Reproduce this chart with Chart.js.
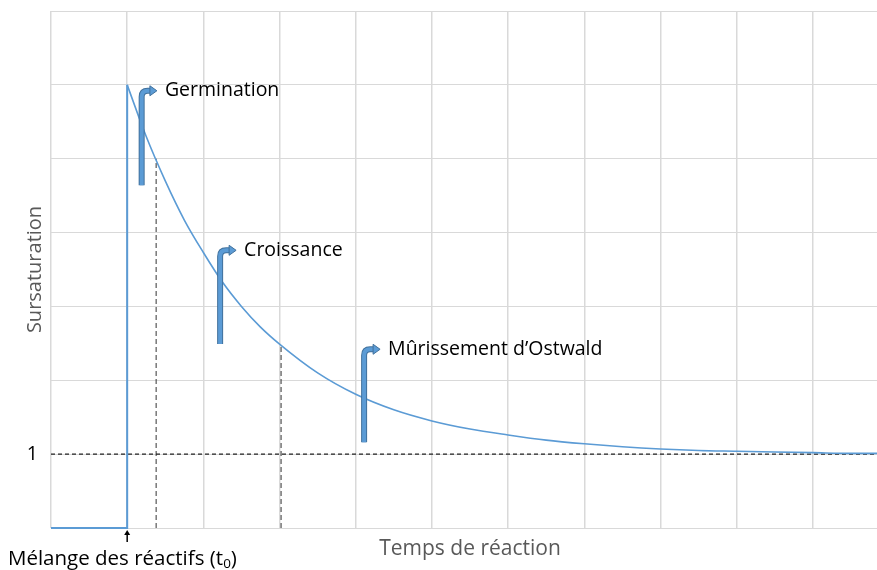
<!DOCTYPE html>
<html>
<head>
<meta charset="utf-8">
<script src="https://cdn.jsdelivr.net/npm/chart.js@4.4.0/dist/chart.umd.min.js"></script>
<style>
  html, body { margin: 0; padding: 0; background: #fff; overflow: hidden; }
  #wrap { position: relative; width: 890px; height: 570px; }
</style>
</head>
<body>
<div id="wrap"><canvas id="chart"></canvas></div>
<script>
// data (x in grid units, y in grid units; 1 = saturation)
const stepTimes = [0, 1, 1];
const stepValues = [0, 0, 6];
const decayTimes = [1, 1.25, 1.5, 1.75, 2, 2.25, 2.5, 2.75, 3, 3.5, 4, 4.5, 5, 5.5, 6, 6.5, 7, 7.5, 8, 8.5, 9, 9.5, 10, 10.5, 11];
const decayValues = [6.0, 5.30, 4.70, 4.17, 3.73, 3.33, 3.00, 2.72, 2.49, 2.10, 1.81, 1.60, 1.45, 1.34, 1.26, 1.19, 1.14, 1.10, 1.07, 1.05, 1.04, 1.03, 1.02, 1.01, 1.01];
const saturationLevel = 1;
const markerTimes = [1.38, 3.02];
const markerValues = [5.0, 2.49];
const phaseLabels = ['Germination', 'Croissance', 'Mûrissement d’Ostwald'];
const yTickLabels = ['', '1', '', '', '', '', '', ''];
const xTitle = 'Temps de réaction';
const yTitle = 'Sursaturation';
const originText = 'Mélange des réactifs (t';
const originSub = '0';

// annotation arrows, in axis units
const phaseArrows = [
  { x: 1.19, bottom: 4.64, top: 5.92, tip: 1.39 },
  { x: 2.22, bottom: 2.49, top: 3.76, tip: 2.43 },
  { x: 4.11, bottom: 1.16, top: 2.42, tip: 4.32 }
];

const FONT = '"Open Sans", sans-serif';
const BLUE = '#5b9bd5';

function pts(xs, ys) {
  return xs.map((x, i) => ({ x: x, y: ys[i] }));
}

const datasets = [
  {
    data: pts(stepTimes, stepValues),
    borderColor: BLUE, borderWidth: 2, pointRadius: 0, tension: 0, clip: 10
  },
  {
    data: pts(decayTimes, decayValues),
    borderColor: BLUE, borderWidth: 1.6, pointRadius: 0, cubicInterpolationMode: 'monotone', clip: 10
  },
  {
    data: [{ x: 0, y: saturationLevel }, { x: 11, y: saturationLevel }],
    borderColor: '#222', borderWidth: 1.2, borderDash: [4, 3], pointRadius: 0
  }
];
markerTimes.forEach((t, i) => {
  datasets.push({
    data: [{ x: t, y: 0 }, { x: t, y: markerValues[i] }],
    borderColor: '#333', borderWidth: 1, borderDash: [5, 3], pointRadius: 0
  });
});

function bentArrow(ctx, x, yb, yt, xt) {
  const r = 6;
  function path() {
    ctx.beginPath();
    ctx.moveTo(x, yb);
    ctx.lineTo(x, yt + r);
    ctx.quadraticCurveTo(x, yt, x + r, yt);
    ctx.lineTo(xt - 5, yt);
  }
  ctx.lineCap = 'butt';
  path(); ctx.strokeStyle = '#41719c'; ctx.lineWidth = 6; ctx.stroke();
  path(); ctx.strokeStyle = BLUE; ctx.lineWidth = 4; ctx.stroke();
  ctx.beginPath();
  ctx.moveTo(xt - 7, yt - 5);
  ctx.lineTo(xt, yt);
  ctx.lineTo(xt - 7, yt + 5);
  ctx.closePath();
  ctx.fillStyle = BLUE; ctx.fill();
  ctx.strokeStyle = '#41719c'; ctx.lineWidth = 1; ctx.stroke();
}

const annotations = {
  id: 'annotations',
  afterDatasetsDraw(chart) {
    const ctx = chart.ctx;
    const xs = chart.scales.x, ys = chart.scales.y;
    const area = chart.chartArea;
    ctx.save();

    // phase arrows + labels
    phaseArrows.forEach((a, i) => {
      const px = xs.getPixelForValue(a.x);
      const yb = ys.getPixelForValue(a.bottom);
      const yt = ys.getPixelForValue(a.top);
      const xt = xs.getPixelForValue(a.tip);
      bentArrow(ctx, px, yb, yt, xt);
      ctx.fillStyle = '#000';
      ctx.font = '19.5px ' + FONT;
      ctx.textBaseline = 'middle';
      ctx.textAlign = 'left';
      ctx.fillText(phaseLabels[i], xt + 8, yt);
    });

    // y tick labels
    ctx.font = '19.5px ' + FONT;
    ctx.fillStyle = '#000';
    ctx.textAlign = 'right';
    ctx.textBaseline = 'middle';
    yTickLabels.forEach((lab, v) => {
      if (lab) ctx.fillText(lab, area.left - 13, ys.getPixelForValue(v));
    });

    // axis titles
    ctx.fillStyle = '#595959';
    ctx.font = '21px ' + FONT;
    ctx.textAlign = 'center';
    ctx.fillText(xTitle, (area.left + area.right) / 2, area.bottom + 21);
    ctx.save();
    ctx.translate(area.left - 16, (area.top + area.bottom) / 2);
    ctx.rotate(-Math.PI / 2);
    ctx.font = '20px ' + FONT;
    ctx.fillText(yTitle, 0, 0);
    ctx.restore();

    // t0 marker
    const x0 = xs.getPixelForValue(stepTimes[1]);
    ctx.strokeStyle = '#000';
    ctx.fillStyle = '#000';
    ctx.lineWidth = 1.5;
    ctx.beginPath();
    ctx.moveTo(x0, area.bottom + 14);
    ctx.lineTo(x0, area.bottom + 6);
    ctx.stroke();
    ctx.beginPath();
    ctx.moveTo(x0 - 3, area.bottom + 7);
    ctx.lineTo(x0, area.bottom + 2);
    ctx.lineTo(x0 + 3, area.bottom + 7);
    ctx.closePath();
    ctx.fill();

    ctx.textAlign = 'left';
    ctx.textBaseline = 'alphabetic';
    ctx.font = '20.5px ' + FONT;
    const ty = area.bottom + 37;
    let tx = 8;
    ctx.fillText(originText, tx, ty);
    tx += ctx.measureText(originText).width;
    ctx.font = '13.5px ' + FONT;
    ctx.fillText(originSub, tx, ty + 3);
    tx += ctx.measureText(originSub).width;
    ctx.font = '20.5px ' + FONT;
    ctx.fillText(')', tx, ty);

    ctx.restore();
  }
};

new Chart(document.getElementById('chart'), {
  type: 'line',
  data: { datasets: datasets },
  options: {
    responsive: true,
    maintainAspectRatio: false,
    animation: false,
    layout: { padding: { left: 51, top: 11, bottom: 42, right: 1 } },
    plugins: { legend: { display: false }, tooltip: { enabled: false } },
    scales: {
      x: {
        type: 'linear', min: 0, max: 11,
        ticks: { display: false, stepSize: 1 },
        grid: { color: '#d9d9d9', lineWidth: 1.5, drawTicks: false },
        border: { display: false }
      },
      y: {
        type: 'linear', min: 0, max: 7,
        ticks: { display: false, stepSize: 1 },
        grid: { color: '#d9d9d9', lineWidth: 1, drawTicks: false },
        border: { display: false }
      }
    }
  },
  plugins: [annotations]
});
</script>
</body>
</html>
